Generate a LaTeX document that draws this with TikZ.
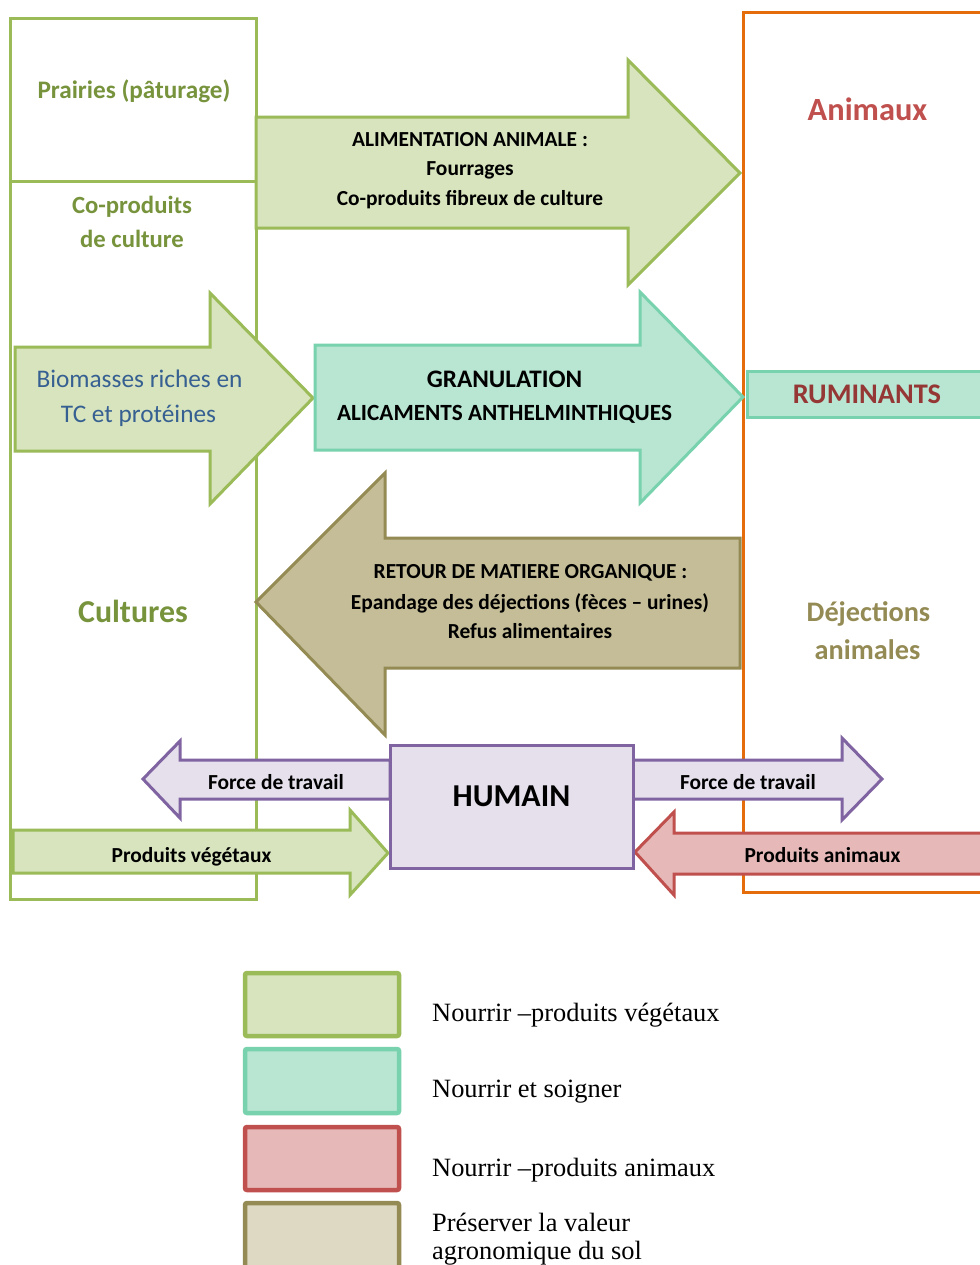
\documentclass[tikz,border=0pt]{standalone}
\usepackage{fontspec}
\setmainfont{Carlito}
\newfontfamily\tnr{Liberation Serif}
\definecolor{grnS}{HTML}{9BBB59}
\definecolor{grnF}{HTML}{D7E4BD}
\definecolor{mntS}{HTML}{79D2AE}
\definecolor{mntF}{HTML}{B8E6D3}
\definecolor{redS}{HTML}{C0504D}
\definecolor{redF}{HTML}{E6B9B8}
\definecolor{khkS}{HTML}{948A54}
\definecolor{khkF}{HTML}{C4BD97}
\definecolor{khkL}{HTML}{DDD9C3}
\definecolor{purS}{HTML}{8064A2}
\definecolor{purF}{HTML}{E5E0EC}
\definecolor{orgS}{HTML}{E46C0A}
\definecolor{txGrn}{HTML}{77933C}
\definecolor{txBlu}{HTML}{376092}
\definecolor{txRed}{HTML}{C0504D}
\definecolor{txRum}{HTML}{953735}
\definecolor{txKhk}{HTML}{948A54}
\newcommand{\fs}[1]{\fontsize{#1}{#1}\selectfont}
\begin{document}
\begin{tikzpicture}[x=1bp,y=-1bp,
  grnbox/.style={draw=grnS,line width=3bp},
  orgbox/.style={draw=orgS,line width=3bp},
  grnarr/.style={draw=grnS,fill=grnF,line width=3bp,line join=miter},
  mntarr/.style={draw=mntS,fill=mntF,line width=3bp,line join=miter},
  khkarr/.style={draw=khkS,fill=khkF,line width=3bp,line join=miter},
  purarr/.style={draw=purS,fill=purF,line width=3bp,line join=miter},
  redarr/.style={draw=redS,fill=redF,line width=3bp,line join=miter},
  lab/.style={anchor=base,inner sep=0pt,font=\bfseries\fs{21.5}},
  leg/.style={rounded corners=2bp,line width=4.5bp},
  legtxt/.style={anchor=base west,inner sep=0pt,font=\tnr\fs{26.5}}]
\useasboundingbox (0,0) rectangle (980,1265);
\fill[white] (0,0) rectangle (980,1265);
\clip (0,0) rectangle (980,1265);
% frames
\draw[grnbox] (10,18) rectangle (256,181);
\draw[grnbox] (10,181) rectangle (256,899);
\draw[orgbox] (743,12) rectangle (1000,892);
% arrows
\draw[grnarr] (256,117) -- (628,117) -- (628,60) -- (740,173) -- (628,285) -- (628,228) -- (256,228) -- cycle;
\draw[grnarr] (15,347) -- (210,347) -- (210,293) -- (313,398) -- (210,504) -- (210,451) -- (15,451) -- cycle;
\draw[mntarr] (315,345) -- (640,345) -- (640,292) -- (743,397) -- (640,503) -- (640,450) -- (315,450) -- cycle;
\draw[mntarr] (747,371) rectangle (1000,417);
\draw[khkarr] (740,538) -- (385,538) -- (385,473) -- (256,602) -- (385,735) -- (385,668) -- (740,668) -- cycle;
\draw[purarr] (390,760) -- (180,760) -- (180,741) -- (143,779) -- (180,818) -- (180,799) -- (390,799) -- cycle;
\draw[purarr] (633,760) -- (842,760) -- (842,738) -- (882,779) -- (842,820) -- (842,799) -- (633,799) -- cycle;
\draw[grnarr] (13,830) -- (350,830) -- (350,810) -- (388,853) -- (350,895) -- (350,873) -- (13,873) -- cycle;
\draw[redarr] (1000,833) -- (674,833) -- (674,812) -- (635,852) -- (674,895) -- (674,874) -- (1000,874) -- cycle;
\draw[purarr] (390,745) rectangle (633,868);
% labels
\node[lab,text=txGrn,font=\bfseries\fs{25.3}] (prai) at (134,98) {Prairies (pâturage)};
\node[lab,text=txGrn,font=\bfseries\fs{24.8}] (copr1) at (132,213) {Co-produits};
\node[lab,text=txGrn,font=\bfseries\fs{24.8}] (copr2) at (132,247) {de culture};
\node[lab,text=txGrn,font=\bfseries\fs{32}] (cult) at (133,622) {Cultures};
\node[lab,text=txBlu,font=\fs{25.4}] (bio1) at (139.5,387) {Biomasses riches en};
\node[lab,text=txBlu,font=\fs{25.4}] (bio2) at (138.5,422) {TC et protéines};
\node[lab] (ali1) at (470,146) {ALIMENTATION ANIMALE :};
\node[lab] (ali2) at (470,175) {Fourrages};
\node[lab] (ali3) at (470,205) {Co-produits fibreux de culture};
\node[lab,font=\bfseries\fs{25.3}] (gra1) at (504.5,387) {GRANULATION};
\node[lab,font=\bfseries\fs{23.3}] (gra2) at (504.5,420) {ALICAMENTS ANTHELMINTHIQUES};
\node[lab] (ret1) at (530.5,578) {RETOUR DE MATIERE ORGANIQUE :};
\node[lab] (ret2) at (530,609) {Epandage des déjections (fèces – urines)};
\node[lab] (ret3) at (530,638) {Refus alimentaires};
\node[lab,text=txRed,font=\bfseries\fs{32.5}] (anim) at (867.5,120) {Animaux};
\node[lab,text=txRum,font=\bfseries\fs{28.5}] (rumi) at (867,403) {RUMINANTS};
\node[lab,text=txKhk,font=\bfseries\fs{28.4}] (dej1) at (868.5,621) {Déjections};
\node[lab,text=txKhk,font=\bfseries\fs{28.4}] (dej2) at (867.5,659) {animales};
\node[lab,font=\bfseries\fs{32}] (hum) at (511.5,806) {HUMAIN};
\node[lab] (frc1) at (276,789) {Force de travail};
\node[lab] (frc2) at (748,789) {Force de travail};
\node[lab] (pveg) at (191.5,862) {Produits végétaux};
\node[lab] (pani) at (822.5,862) {Produits animaux};
% legend
\draw[leg,draw=grnS,fill=grnF] (245,973) rectangle (399,1036);
\draw[leg,draw=mntS,fill=mntF] (245,1049) rectangle (399,1113);
\draw[leg,draw=redS,fill=redF] (245,1127) rectangle (399,1190);
\draw[leg,draw=khkS,fill=khkL] (245,1203) rectangle (399,1290);
\node[legtxt] (l1) at (432,1021) {Nourrir –produits végétaux};
\node[legtxt] (l2) at (432,1097) {Nourrir et soigner};
\node[legtxt] (l3) at (432,1176) {Nourrir –produits animaux};
\node[legtxt] (l4a) at (432,1231) {Préserver la valeur};
\node[legtxt] (l4b) at (432,1259) {agronomique du sol};
\end{tikzpicture}
\end{document}
